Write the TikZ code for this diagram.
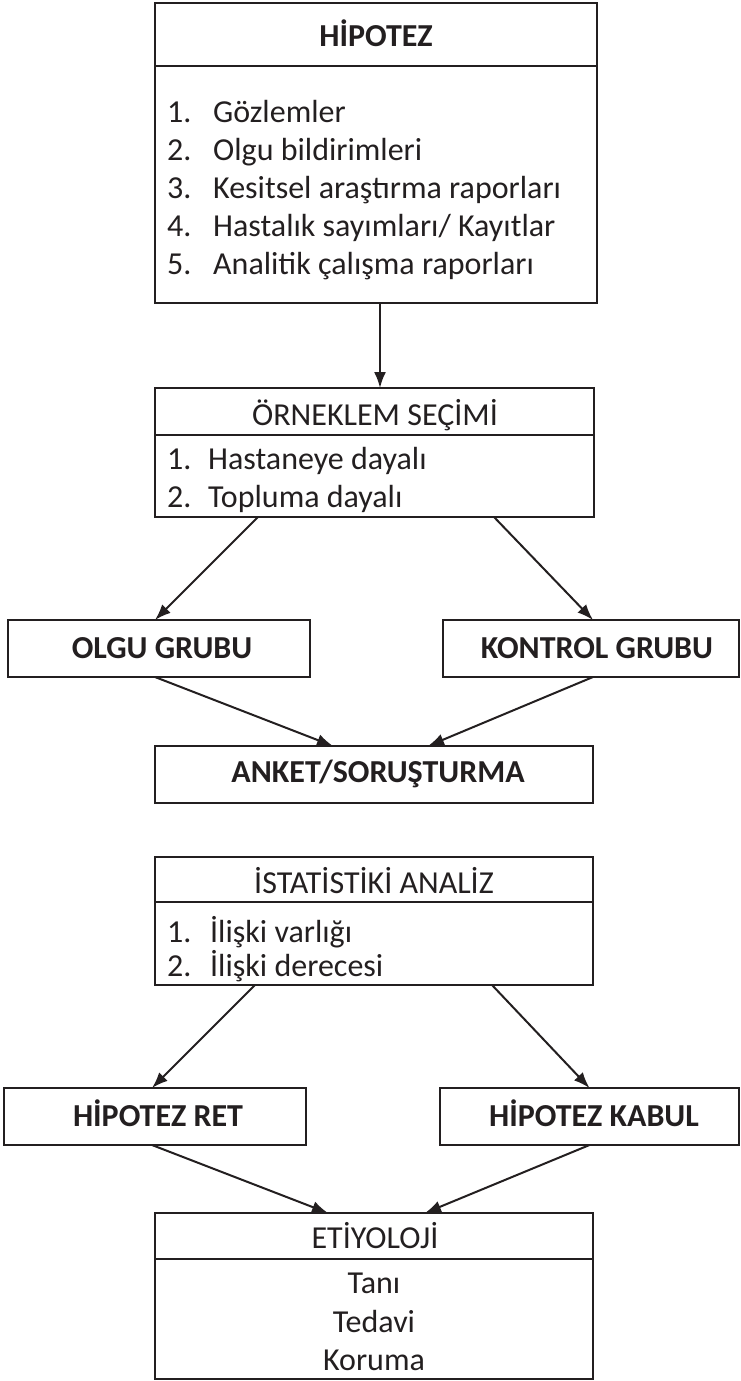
\documentclass[tikz,border=0pt]{standalone}
\usepackage{fontspec}
\setmainfont{Carlito}
\usetikzlibrary{arrows.meta}
\definecolor{ink}{HTML}{231F20}
\begin{document}
\begin{tikzpicture}[x=1pt,y=-1pt,
  box/.style={draw=ink,line width=2.4pt,rectangle,inner sep=0pt,outer sep=0pt,anchor=north west},
  lbl/.style={text=ink,inner sep=0pt,anchor=base,font=\fontsize{32}{38}\selectfont},
  blbl/.style={text=ink,inner sep=0pt,anchor=base,font=\fontsize{32}{38}\selectfont\bfseries},
  item/.style={text=ink,inner sep=0pt,anchor=base west,font=\fontsize{32}{38}\selectfont},
  link/.style={draw=ink,line width=2pt,-{Latex[length=16pt,width=12pt]}}]
\useasboundingbox (0,0) rectangle (740,1381);

% --- Hipotez ---
\node[box,minimum width=442pt,minimum height=63pt] (hyptitle) at (155,3) {};
\node[box,minimum width=442pt,minimum height=237pt] (hypbody) at (155,66) {};
\node[blbl] (hyptext) at (376,47) {HİPOTEZ};
\node[item] (h1) at (167,122) {\makebox[46pt][l]{1.}Gözlemler};
\node[item] (h2) at (167,160) {\makebox[46pt][l]{2.}Olgu bildirimleri};
\node[item] (h3) at (167,198) {\makebox[46pt][l]{3.}Kesitsel araştırma raporları};
\node[item] (h4) at (167,236) {\makebox[46pt][l]{4.}Hastalık sayımları/ Kayıtlar};
\node[item] (h5) at (167,274) {\makebox[46pt][l]{5.}Analitik çalışma raporları};

% --- Örneklem seçimi ---
\node[box,minimum width=439pt,minimum height=47pt] (orntitle) at (155,388) {};
\node[box,minimum width=439pt,minimum height=82pt] (ornbody) at (155,435) {};
\node[lbl] (orntext) at (375,425) {ÖRNEKLEM SEÇİMİ};
\node[item] (o1) at (167,469) {\makebox[41pt][l]{1.}Hastaneye dayalı};
\node[item] (o2) at (167,507) {\makebox[41pt][l]{2.}Topluma dayalı};

% --- Gruplar ---
\node[box,minimum width=302pt,minimum height=57pt] (olgu) at (8,620) {};
\node[blbl] (olgutext) at (162,658) {OLGU GRUBU};
\node[box,minimum width=296pt,minimum height=57pt] (kontrol) at (443,620) {};
\node[blbl] (kontroltext) at (597,658) {KONTROL GRUBU};

% --- Anket ---
\node[box,minimum width=438pt,minimum height=57pt] (anket) at (155,746) {};
\node[blbl] (ankettext) at (378,782) {ANKET/SORUŞTURMA};

% --- İstatistiki analiz ---
\node[box,minimum width=438pt,minimum height=45pt] (isttitle) at (155,857) {};
\node[box,minimum width=438pt,minimum height=83pt] (istbody) at (155,902) {};
\node[lbl] (isttext) at (374,893) {İSTATİSTİKİ ANALİZ};
\node[item] (i1) at (167,942) {\makebox[43pt][l]{1.}İlişki varlığı};
\node[item] (i2) at (167,976) {\makebox[43pt][l]{2.}İlişki derecesi};

% --- Hipotez sonucu ---
\node[box,minimum width=302pt,minimum height=57pt] (ret) at (4,1088) {};
\node[blbl] (rettext) at (158,1126) {HİPOTEZ RET};
\node[box,minimum width=299pt,minimum height=57pt] (kabul) at (440,1088) {};
\node[blbl] (kabultext) at (594,1126) {HİPOTEZ KABUL};

% --- Etiyoloji ---
\node[box,minimum width=438pt,minimum height=46pt] (etititle) at (155,1213) {};
\node[box,minimum width=438pt,minimum height=120pt] (etibody) at (155,1259) {};
\node[lbl] (etitext) at (375,1248) {ETİYOLOJİ};
\node[lbl] (e1) at (374,1293) {Tanı};
\node[lbl] (e2) at (374,1332) {Tedavi};
\node[lbl] (e3) at (374,1370) {Koruma};

% --- Bağlantılar ---
\draw[link] ([xshift=4pt]hypbody.south) -- ([xshift=4pt]hypbody.south |- orntitle.north);
\draw[link] ([xshift=103pt]ornbody.south west) -- ([xshift=-4pt]olgu.north);
\draw[link] ([xshift=-100pt]ornbody.south east) -- ([xshift=2pt]kontrol.north);
\draw[link] ([xshift=-4pt]olgu.south) -- ([xshift=178pt]anket.north west);
\draw[link] ([xshift=2pt]kontrol.south) -- ([xshift=-165pt]anket.north east);
\draw[link] ([xshift=100pt]istbody.south west) -- ([xshift=-3pt]ret.north);
\draw[link] ([xshift=-101pt]istbody.south east) -- ([xshift=0pt]kabul.north);
\draw[link] ([xshift=-3pt]ret.south) -- ([xshift=173pt]etititle.north west);
\draw[link] ([xshift=0pt]kabul.south) -- ([xshift=-168pt]etititle.north east);
\end{tikzpicture}
\end{document}
